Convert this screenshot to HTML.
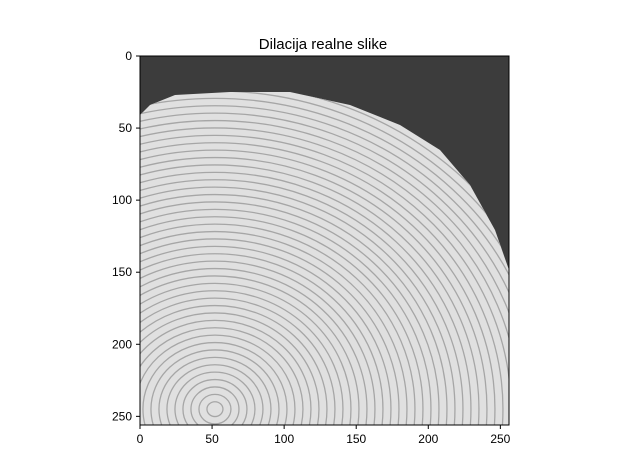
<!DOCTYPE html>
<html>
<head>
<meta charset="utf-8">
<style>
  html, body { margin: 0; padding: 0; background: #ffffff; width: 631px; height: 473px; overflow: hidden; }
  svg { display: block; font-family: "Liberation Sans", "DejaVu Sans", sans-serif; }
</style>
</head>
<body>
<svg id="chart" width="631" height="473" viewBox="0 0 631 473">
  <defs>
    <clipPath id="fp-clip">
      <polygon points="140,425 140,115 150,105 175,95 230,92 290,92 350,105 400,125 440,150 470,185 495,230 509,270 509,425"/>
    </clipPath>
    <clipPath id="ax-clip">
      <rect x="140" y="56" width="369" height="369"/>
    </clipPath>
  </defs>
  <text x="323" y="49" text-anchor="middle" font-size="15" fill="#000">Dilacija realne slike</text>
  <g clip-path="url(#ax-clip)">
    <rect x="140" y="56" width="369" height="369" fill="#3c3c3c"/>
    <g clip-path="url(#fp-clip)">
      <rect x="140" y="56" width="369" height="369" fill="#e0e0e0"/>
      <g id="ridges" fill="none" stroke="#a6a6a6" stroke-width="1.3"></g>
    </g>
  </g>
  <rect x="140" y="56" width="369" height="369" fill="none" stroke="#000" stroke-width="1"/>
  <g id="xticks"></g>
  <g id="yticks"></g>
</svg>
<script>
const xTicks = [0, 50, 100, 150, 200, 250];
const yTicks = [0, 50, 100, 150, 200, 250];
const imgSize = [256, 256];
const ridgeCenter = [52, 245];
const ridgeCount = [44];

const NS = "http://www.w3.org/2000/svg";
const X0 = 140, Y0 = 56, W = 369, H = 369;
function xs(v) { return X0 + v * W / imgSize[0]; }
function ys(v) { return Y0 + v * H / imgSize[1]; }

const xg = document.getElementById('xticks');
xTicks.forEach(t => {
  const x = xs(t);
  const l = document.createElementNS(NS, 'line');
  l.setAttribute('x1', x); l.setAttribute('x2', x);
  l.setAttribute('y1', 425); l.setAttribute('y2', 429);
  l.setAttribute('stroke', '#000');
  
  
  xg.appendChild(l);
  const tx = document.createElementNS(NS, 'text');
  tx.setAttribute('x', x); tx.setAttribute('y', 443);
  tx.setAttribute('text-anchor', 'middle');
  tx.setAttribute('font-size', '12');
  tx.textContent = t;
  
  
  xg.appendChild(tx);
});
const yg = document.getElementById('yticks');
yTicks.forEach(t => {
  const y = ys(t);
  const l = document.createElementNS(NS, 'line');
  l.setAttribute('x1', 136); l.setAttribute('x2', 140);
  l.setAttribute('y1', y); l.setAttribute('y2', y);
  l.setAttribute('stroke', '#000');
  
  
  yg.appendChild(l);
  const tx = document.createElementNS(NS, 'text');
  tx.setAttribute('x', 132); tx.setAttribute('y', y + 4);
  tx.setAttribute('text-anchor', 'end');
  tx.setAttribute('font-size', '12');
  tx.textContent = t;
  
  
  yg.appendChild(tx);
});

const rg = document.getElementById('ridges');
const cx = xs(ridgeCenter[0]), cy = ys(ridgeCenter[1]);
for (let i = 1; i <= ridgeCount[0]; i++) {
  const e = document.createElementNS(NS, 'ellipse');
  e.setAttribute('cx', cx); e.setAttribute('cy', cy);
  e.setAttribute('rx', i * 8.0); e.setAttribute('ry', i * 7.4);
  
  
  rg.appendChild(e);
}
</script>
</body>
</html>
